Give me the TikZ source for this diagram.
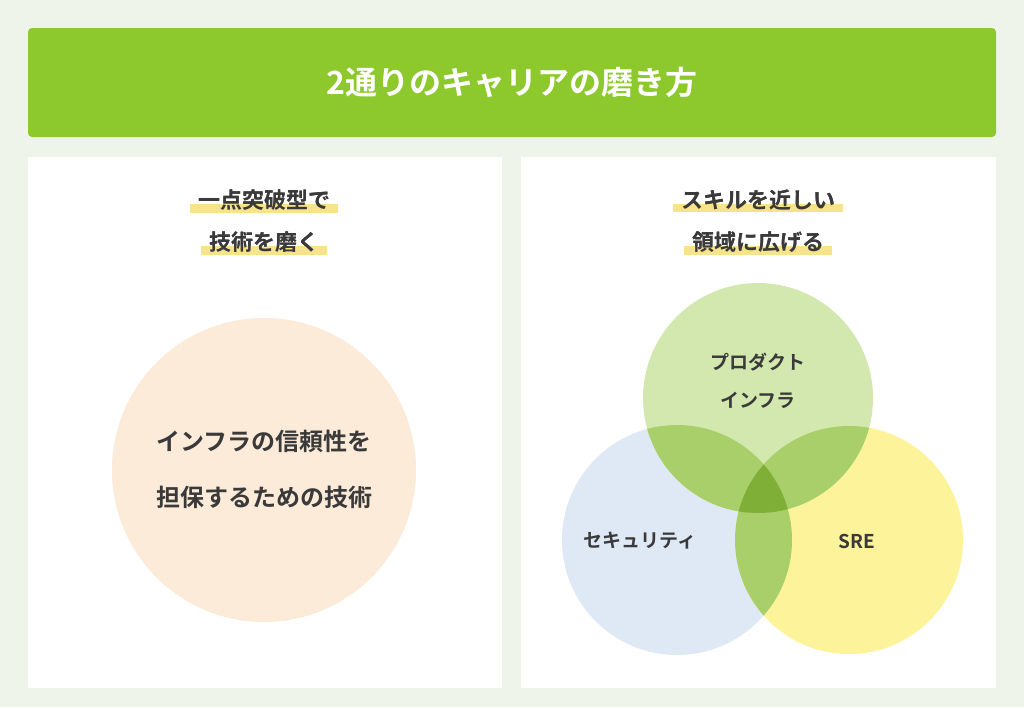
\documentclass[tikz,border=0pt]{standalone}
\usepackage{fontspec}
\setmainfont{Noto Sans CJK JP}[BoldFont={* Bold}]
\newfontfamily\jpb{Noto Sans CJK JP Bold}
\definecolor{bgc}{HTML}{EFF4EA}
\definecolor{barc}{HTML}{8DC92D}
\definecolor{txt}{HTML}{3A3A3A}
\definecolor{hl}{HTML}{F7E38A}
\definecolor{peach}{HTML}{FCEBD9}
\definecolor{cg}{HTML}{D3E8AE}
\definecolor{cb}{HTML}{DFE8F5}
\definecolor{cy}{HTML}{FDF39A}
\definecolor{ov}{HTML}{A9CF6A}
\definecolor{ovc}{HTML}{7FAF36}
\begin{document}
\begin{tikzpicture}[x=1pt,y=-1pt,
  head/.style={font=\jpb\fontsize{22}{26}\selectfont,text=txt,inner sep=2pt},
  lab/.style={font=\jpb\fontsize{19}{23}\selectfont,text=txt},
  big/.style={font=\jpb\fontsize{24}{28}\selectfont,text=txt}]
\fill[bgc] (0,0) rectangle (1024,707);
\useasboundingbox (0,0) rectangle (1024,707);
\fill[barc,rounded corners=4] (28,28) rectangle (996,137);
\node[font=\jpb\fontsize{32}{36}\selectfont,text=white] (title) at (512,82) {2通りのキャリアの磨き方};
\fill[white] (28,157) rectangle (502,688);
\fill[white] (521,157) rectangle (996,688);
\node[head] (l1) at (264,200) {一点突破型で};
\node[head] (l2) at (264,242) {技術を磨く};
\node[head] (r1) at (758,200) {スキルを近しい};
\node[head] (r2) at (758,242) {領域に広げる};
\foreach \n in {l1,l2,r1,r2}{\fill[hl] ([xshift=-6]\n.south west) rectangle ([xshift=6,yshift=-4]\n.east);}
\node[head] at (264,200) {一点突破型で};
\node[head] at (264,242) {技術を磨く};
\node[head] at (758,200) {スキルを近しい};
\node[head] at (758,242) {領域に広げる};
\fill[peach] (264,470) circle (152);
\node[big] (c1) at (264,441) {インフラの信頼性を};
\node[big] (c2) at (264,497) {担保するための技術};
\fill[cb] (677,540) circle (115);
\fill[cy] (849,540) circle (114);
\fill[cg] (758,398) circle (115);
\begin{scope}\clip (758,398) circle (115); \fill[ov] (677,540) circle (115); \fill[ov] (849,540) circle (114); \end{scope}
\begin{scope}\clip (677,540) circle (115); \fill[ov] (849,540) circle (114);
  \begin{scope}\clip (758,398) circle (115); \fill[ovc] (849,540) circle (114); \end{scope}
\end{scope}
\node[lab] (p1) at (758,362) {プロダクト};
\node[lab] (p2) at (758,400) {インフラ};
\node[lab] (s) at (640,541) {セキュリティ};
\node[lab] (sre) at (857,541) {SRE};
\end{tikzpicture}
\end{document}
